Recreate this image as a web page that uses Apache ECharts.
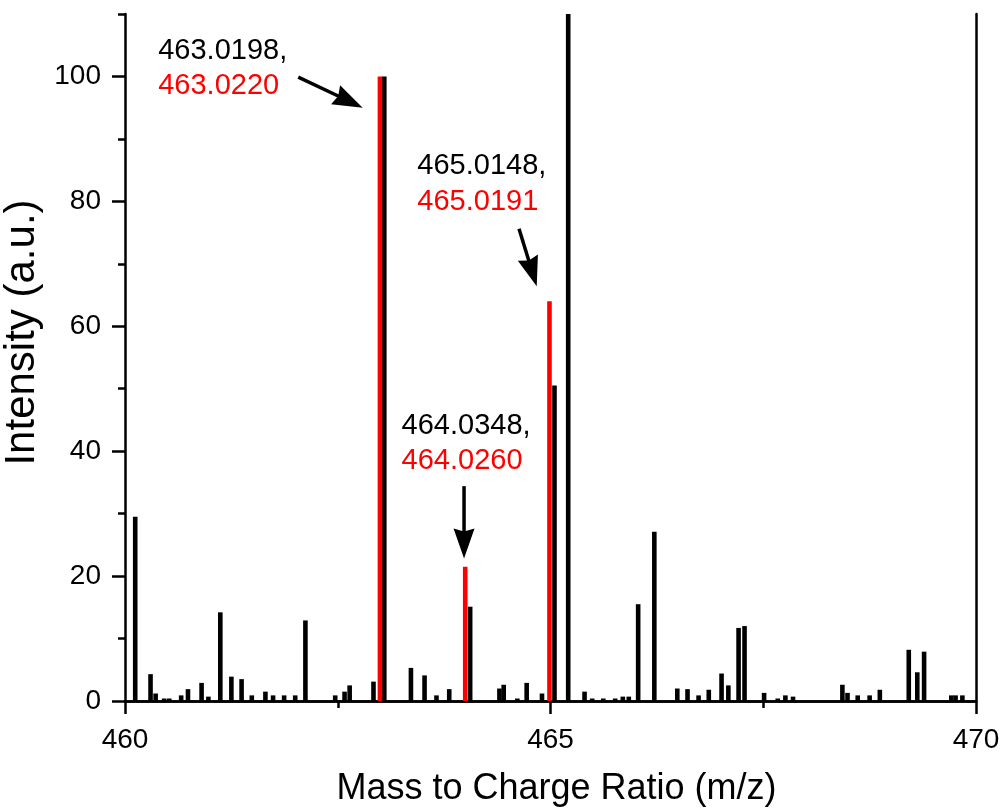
<!DOCTYPE html>
<html><head><meta charset="utf-8">
<script src="https://cdn.jsdelivr.net/npm/echarts@6/dist/echarts.min.js"></script>
<style>html,body{margin:0;padding:0;background:#fff}#c{width:1003px;height:808px}</style>
</head><body><div id="c"></div>
<script>
// ---- data ----
const xMajorTicks = [460, 465, 470];
const xMinorTicks = [462.5, 467.5];
const yMajorTicks = [0, 20, 40, 60, 80, 100];
const yMinorTicks = [10, 30, 50, 70, 90, 110];

const blackMz = [460.12,460.30,460.36,460.46,460.52,460.66,460.74,460.90,460.98,461.12,461.25,461.37,461.49,461.65,461.74,461.87,462.00,462.12,462.47,462.58,462.64,462.92,463.047,463.36,463.52,463.66,463.81,464.056,464.40,464.45,464.61,464.72,464.90,465.047,465.208,465.40,465.49,465.62,465.76,465.85,465.92,466.03,466.22,466.49,466.61,466.74,466.86,467.01,467.09,467.21,467.28,467.51,467.67,467.76,467.85,468.43,468.49,468.61,468.75,468.87,469.21,469.31,469.39,469.71,469.76,469.84];
const blackIntensity = [29.5,4.3,1.2,0.4,0.4,0.9,1.9,2.9,0.7,14.2,3.9,3.5,0.9,1.5,0.9,0.9,0.9,12.9,0.9,1.5,2.5,3.1,100,5.3,4.1,0.9,1.9,15.1,2.0,2.6,0.4,2.9,1.2,50.5,160,1.5,0.4,0.4,0.4,0.7,0.7,15.5,27.1,2.0,1.9,0.9,1.8,4.4,2.5,11.7,12.0,1.3,0.4,0.9,0.7,2.6,1.3,0.9,0.9,1.8,8.2,4.6,7.9,0.9,0.9,0.9];
const redMz = [462.996, 463.998, 464.988];
const redIntensity = [100, 21.5, 64.0];

const annBlackText = ['463.0198,', '464.0348,', '465.0148,'];
const annRedText = ['463.0220', '464.0260', '465.0191'];
const annTextMz = [460.39, 463.25, 463.435];
const annBlackY = [104.0, 44.05, 85.6];
const annRedY = [98.4, 38.45, 79.9];
const arrowFromMz = [462.036, 463.984, 464.63];
const arrowFromY = [99.9, 34.4, 75.6];
const arrowToMz = [462.793, 463.984, 464.838];
const arrowToY = [95.0, 22.8, 66.4];

const FONT = "'Liberation Sans', Arial, sans-serif";
const chart = echarts.init(document.getElementById('c'), null, {renderer: 'canvas'});

function barRender(color) {
  return function (params, api) {
    const x = api.value(0), y = api.value(1);
    const p0 = api.coord([x, 0]), p1 = api.coord([x, y]);
    const w = 4.6;
    const cs = params.coordSys;
    const r = echarts.graphic.clipRectByRect(
      {x: p0[0] - w / 2, y: p1[1], width: w, height: p0[1] - p1[1]},
      {x: cs.x, y: cs.y, width: cs.width, height: cs.height});
    return r && {type: 'rect', shape: r, style: {fill: color}};
  };
}

const axLine = {show: true, lineStyle: {color: '#000', width: 2.5}};
const lbl = {color: '#000', fontSize: 28, fontFamily: FONT};

chart.setOption({
  animation: false,
  backgroundColor: '#fff',
  grid: {left: 125, right: 27, top: 14, bottom: 107, containLabel: false, outerBoundsMode: 'none'},
  xAxis: [
    {type: 'value', min: 460, max: 470, interval: 5, position: 'bottom',
     axisLine: axLine,
     axisTick: {show: true, customValues: xMajorTicks, length: 13, lineStyle: {color: '#000', width: 2.5}},
     axisLabel: Object.assign({customValues: xMajorTicks, margin: 25}, lbl),
     splitLine: {show: false},
     name: 'Mass to Charge Ratio (m/z)', nameLocation: 'middle', nameGap: 70,
     nameTextStyle: {color: '#000', fontSize: 36, fontFamily: FONT, padding: [0, 0, 0, 12]}},
    {type: 'value', min: 460, max: 470, interval: 5, position: 'bottom',
     axisLine: {show: false},
     axisTick: {show: true, customValues: xMinorTicks, length: 7, lineStyle: {color: '#000', width: 2.5}},
     axisLabel: {show: false}, splitLine: {show: false}},
    {type: 'value', min: 460, max: 470, interval: 5, position: 'top',
     axisLine: axLine, axisTick: {show: false}, axisLabel: {show: false}, splitLine: {show: false}}
  ],
  yAxis: [
    {type: 'value', min: 0, max: 110, interval: 10, position: 'left',
     axisLine: axLine,
     axisTick: {show: true, customValues: yMajorTicks, length: 13, lineStyle: {color: '#000', width: 2.5}},
     axisLabel: Object.assign({customValues: yMajorTicks, margin: 24}, lbl),
     splitLine: {show: false},
     name: 'Intensity (a.u.)', nameLocation: 'middle', nameGap: 66,
     nameTextStyle: {color: '#000', fontSize: 42, fontFamily: FONT, padding: [0, 0, 0, 50]}},
    {type: 'value', min: 0, max: 110, interval: 10, position: 'left',
     axisLine: {show: false},
     axisTick: {show: true, customValues: yMinorTicks, length: 7, lineStyle: {color: '#000', width: 2.5}},
     axisLabel: {show: false}, splitLine: {show: false}},
    {type: 'value', min: 0, max: 110, interval: 10, position: 'right',
     axisLine: axLine, axisTick: {show: false}, axisLabel: {show: false}, splitLine: {show: false}}
  ],
  series: [
    {type: 'custom', name: 'black', xAxisIndex: 0, yAxisIndex: 0,
     data: blackMz.map((m, i) => [m, blackIntensity[i]]),
     renderItem: barRender('#000'), z: 3},
    {type: 'custom', name: 'red', xAxisIndex: 0, yAxisIndex: 0,
     data: redMz.map((m, i) => [m, redIntensity[i]]),
     renderItem: barRender('#ff0000'), z: 3}
  ]
});

// annotations positioned from data coordinates via the chart's own scales
function px(m, v) { return chart.convertToPixel({xAxisIndex: 0, yAxisIndex: 0}, [m, v]); }
const graphics = [];
for (let i = 0; i < annBlackText.length; i++) {
  const pb = px(annTextMz[i], annBlackY[i]);
  const pr = px(annTextMz[i], annRedY[i]);
  graphics.push({type: 'text', x: pb[0], y: pb[1], z: 10,
    style: {text: annBlackText[i], fill: '#000', font: '29px ' + FONT, textAlign: 'left', textVerticalAlign: 'middle'}});
  graphics.push({type: 'text', x: pr[0], y: pr[1], z: 10,
    style: {text: annRedText[i], fill: '#ff0000', font: '29px ' + FONT, textAlign: 'left', textVerticalAlign: 'middle'}});
  const a = px(arrowFromMz[i], arrowFromY[i]);
  const b = px(arrowToMz[i], arrowToY[i]);
  const dx = b[0] - a[0], dy = b[1] - a[1];
  const len = Math.sqrt(dx * dx + dy * dy);
  const ux = dx / len, uy = dy / len;
  const headL = 30, headW = 21;
  const base = [b[0] - ux * headL, b[1] - uy * headL];
  const nx = -uy, ny = ux;
  graphics.push({type: 'line', z: 10, shape: {x1: a[0], y1: a[1], x2: base[0] + ux * 4, y2: base[1] + uy * 4},
    style: {stroke: '#000', lineWidth: 3.5}});
  graphics.push({type: 'polygon', z: 10, shape: {points: [
    [b[0], b[1]],
    [base[0] + nx * headW / 2, base[1] + ny * headW / 2],
    [base[0] + ux * 3, base[1] + uy * 3],
    [base[0] - nx * headW / 2, base[1] - ny * headW / 2]]},
    style: {fill: '#000'}});
}
chart.setOption({graphic: graphics});
</script>
</body></html>
